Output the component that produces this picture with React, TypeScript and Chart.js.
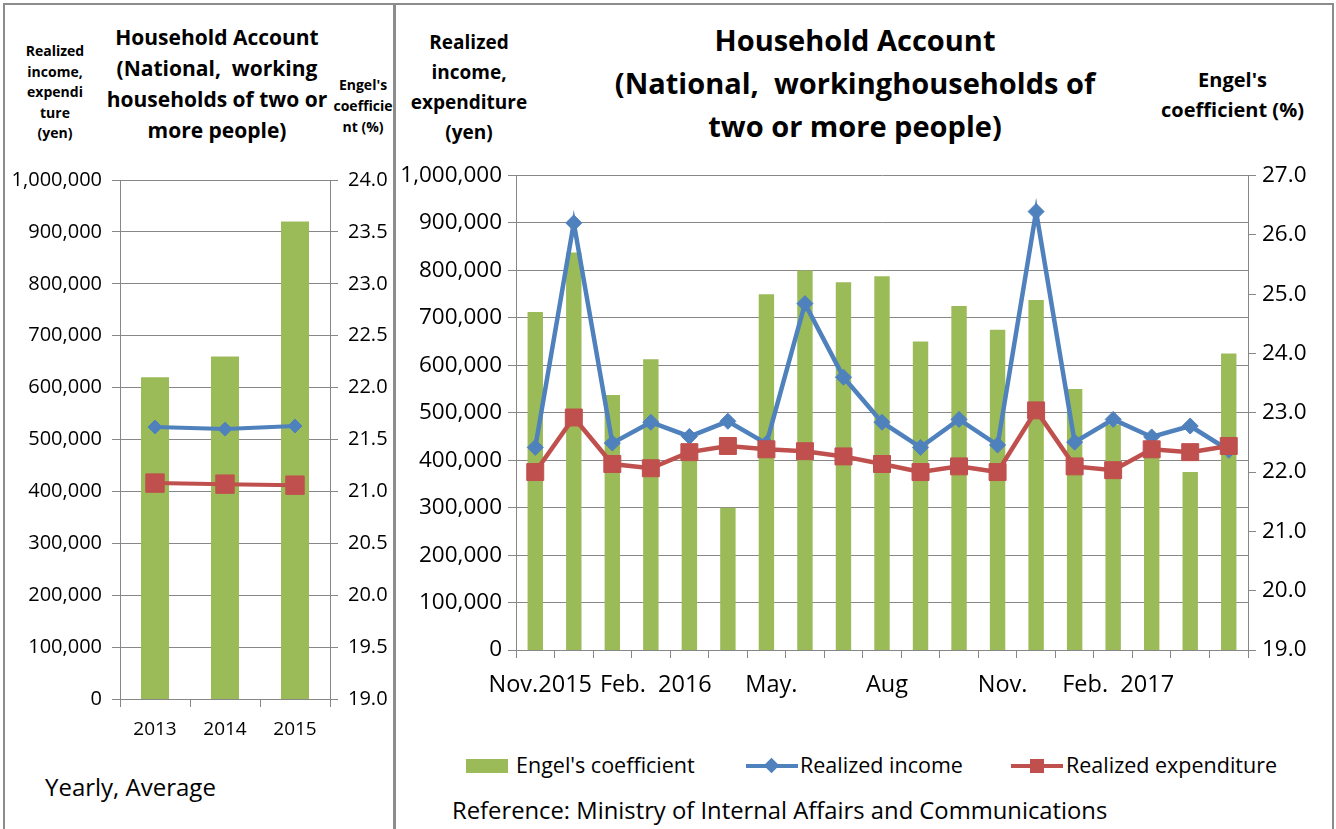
import React, { useEffect, useRef } from "react";
import { Chart, registerables } from "chart.js";

Chart.register(...registerables);

// ---------- Yearly (left) ----------
const yearCategories = ["2013", "2014", "2015"];
const yearEngel = [22.1, 22.3, 23.6];
const yearIncome = [524000, 520000, 526000];
const yearExpenditure = [416000, 414000, 412000];

// ---------- Monthly (right) ----------
const monthCategories = [
  "Nov. 2015", "Dec. 2015", "Jan. 2016", "Feb. 2016", "Mar. 2016", "Apr. 2016",
  "May 2016", "Jun. 2016", "Jul. 2016", "Aug. 2016", "Sep. 2016", "Oct. 2016",
  "Nov. 2016", "Dec. 2016", "Jan. 2017", "Feb. 2017", "Mar. 2017", "Apr. 2017", "May 2017",
];
const monthTickLabels = [
  "Nov.2015", "", "", "Feb.  2016", "", "", "May.", "", "", "Aug", "", "",
  "Nov.", "", "", "Feb.  2017", "", "", "",
];
const monthEngel = [24.7, 25.7, 23.3, 23.9, 22.3, 21.4, 25.0, 25.4, 25.2, 25.3, 24.2, 24.8, 24.4, 24.9, 23.4, 22.8, 22.4, 22.0, 24.0];
const monthIncome = [427000, 900000, 436000, 480000, 450000, 482000, 435000, 730000, 575000, 480000, 427000, 486000, 432000, 924000, 438000, 486000, 449000, 472000, 421000];
const monthExpenditure = [375000, 490000, 392000, 383000, 417000, 430000, 423000, 419000, 408000, 392000, 375000, 387000, 375000, 505000, 387000, 379000, 423000, 417000, 430000];

const GREEN = "#9BBB59";
const BLUE = "#4F81BD";
const RED = "#C0504D";
const GRID = "#878787";
const FONT = "'Open Sans', sans-serif";

type Dims = {
  w: number; h: number; leftW: number; rightW: number; xH: number;
  yFont: number; xFont: number; diamond: number; square: number; lineW: number;
  xPad: number; yPad: number; labelOffset: number;
};

function makeConfig(
  labels: string[], tickLabels: string[], engel: number[], income: number[], expenditure: number[],
  yMin2: number, yMax2: number, step2: number, d: Dims
): any {
  return {
    type: "bar",
    data: {
      labels,
      datasets: [
        {
          type: "line", label: "Realized expenditure", data: expenditure, yAxisID: "y",
          borderColor: RED, backgroundColor: RED, borderWidth: d.lineW,
          pointStyle: "rect", pointRadius: d.square, pointBackgroundColor: RED, pointBorderColor: RED,
          pointBorderWidth: 1, tension: 0, order: 0,
        },
        {
          type: "line", label: "Realized income", data: income, yAxisID: "y",
          borderColor: BLUE, backgroundColor: BLUE, borderWidth: d.lineW,
          pointStyle: "rectRot", pointRadius: d.diamond, pointBackgroundColor: BLUE, pointBorderColor: BLUE,
          pointBorderWidth: 1, tension: 0, order: 1,
        },
        {
          type: "bar", label: "Engel's coefficient", data: engel, yAxisID: "y1",
          backgroundColor: GREEN, borderWidth: 0, barPercentage: 0.4, categoryPercentage: 1, order: 2,
        },
      ],
    },
    options: {
      animation: false,
      responsive: false,
      maintainAspectRatio: false,
      layout: { padding: 0 },
      plugins: { legend: { display: false }, title: { display: false }, tooltip: { enabled: false } },
      scales: {
        x: {
          offset: true,
          grid: { offset: true, drawOnChartArea: false, drawTicks: true, tickLength: 8, color: GRID },
          border: { display: true, color: GRID, width: 1 },
          ticks: {
            autoSkip: false, maxRotation: 0, minRotation: 0, color: "#000", padding: d.xPad,
            labelOffset: d.labelOffset,
            font: { family: FONT, size: d.xFont },
            callback: (_v: any, i: number) => tickLabels[i],
          },
          afterFit: (s: any) => { s.height = d.xH; },
        },
        y: {
          position: "left", min: 0, max: 1000000,
          ticks: {
            stepSize: 100000, color: "#000", padding: d.yPad, font: { family: FONT, size: d.yFont },
            callback: (v: any) => Number(v).toLocaleString("en-US"),
          },
          grid: { color: GRID, lineWidth: 1, tickLength: 8, drawTicks: true },
          border: { display: true, color: GRID, width: 1 },
          afterFit: (s: any) => { s.width = d.leftW; },
        },
        y1: {
          position: "right", min: yMin2, max: yMax2,
          ticks: {
            stepSize: step2, color: "#000", padding: d.yPad, font: { family: FONT, size: d.yFont },
            callback: (v: any) => Number(v).toFixed(1),
          },
          grid: { drawOnChartArea: false, color: GRID, tickLength: 8, drawTicks: true },
          border: { display: true, color: GRID, width: 1 },
          afterFit: (s: any) => { s.width = d.rightW; },
        },
      },
    },
  };
}

function ChartCanvas(props: { left: number; top: number; config: () => any; w: number; h: number }) {
  const ref = useRef<HTMLCanvasElement | null>(null);
  useEffect(() => {
    if (!ref.current) return;
    const chart = new Chart(ref.current, props.config());
    return () => chart.destroy();
  }, []);
  return (
    <canvas
      ref={ref}
      width={props.w}
      height={props.h}
      style={{ position: "absolute", left: props.left, top: props.top, width: props.w, height: props.h }}
    />
  );
}

const abs = (s: React.CSSProperties): React.CSSProperties => ({ position: "absolute", ...s });

export default function App() {
  // chart area top = canvas top + (yFont*1.2/2 + yPad)
  const leftDims: Dims = {
    w: 388, h: 600, leftW: 116, rightW: 62, xH: 59,
    yFont: 20, xFont: 19, diamond: 7, square: 13, lineW: 4, xPad: 11, yPad: 10, labelOffset: 0,
  };
  const rightDims: Dims = {
    w: 936, h: 560, leftW: 119, rightW: 85, xH: 66,
    yFont: 22.5, xFont: 23.5, diamond: 8, square: 12, lineW: 4.5, xPad: 13, yPad: 6, labelOffset: 5,
  };
  const boldText: React.CSSProperties = { fontFamily: FONT, fontWeight: 700, color: "#000", textAlign: "center" };
  const normText: React.CSSProperties = { fontFamily: FONT, fontWeight: 400, color: "#000", whiteSpace: "nowrap" };

  return (
    <div style={{ position: "fixed", left: 0, top: 0, width: 1336, height: 829, background: "#fff", overflow: "hidden" }}>
      {/* borders */}
      <div style={abs({ left: 3, top: 3, width: 1331, height: 2, background: "#8c8c8c" })} />
      <div style={abs({ left: 3, top: 3, width: 2, height: 830, background: "#8c8c8c" })} />
      <div style={abs({ left: 393, top: 3, width: 3, height: 830, background: "#8c8c8c" })} />
      <div style={abs({ left: 1332, top: 3, width: 2, height: 830, background: "#8c8c8c" })} />

      {/* ---------- Left panel ---------- */}
      <div style={abs({ ...boldText, left: 92, top: 22, width: 250, fontSize: 21, lineHeight: "31px", whiteSpace: "nowrap" })}>
        Household Account<br />(National,&nbsp; working<br />households of two or<br />more people)
      </div>
      <div style={abs({ ...boldText, left: 10, top: 41, width: 90, fontSize: 14, lineHeight: "20.5px" })}>
        Realized<br />income,<br />expendi<br />ture<br />(yen)
      </div>
      <div style={abs({ ...boldText, left: 325, top: 74, width: 76, fontSize: 14, lineHeight: "21px" })}>
        Engel's<br />coefficie<br />nt (%)
      </div>
      <ChartCanvas
        left={4} top={158} w={leftDims.w} h={leftDims.h}
        config={() => makeConfig(yearCategories, yearCategories, yearEngel, yearIncome, yearExpenditure, 19, 24, 0.5, leftDims)}
      />
      <div style={abs({ ...normText, left: 45, top: 771, fontSize: 24, lineHeight: "32px" })}>Yearly, Average</div>

      {/* ---------- Right panel ---------- */}
      <div style={abs({ ...boldText, left: 555, top: 18, width: 600, fontSize: 29, lineHeight: "43px", whiteSpace: "nowrap" })}>
        Household Account<br />(National,&nbsp; workinghouseholds of<br />two or more people)
      </div>
      <div style={abs({ ...boldText, left: 396, top: 27, width: 146, fontSize: 19, lineHeight: "30px", whiteSpace: "nowrap" })}>
        Realized<br />income,<br />expenditure<br />(yen)
      </div>
      <div style={abs({ ...boldText, left: 1140, top: 65, width: 185, fontSize: 20, lineHeight: "30px", whiteSpace: "nowrap" })}>
        Engel's<br />coefficient (%)
      </div>
      <ChartCanvas
        left={397} top={156} w={rightDims.w} h={rightDims.h}
        config={() => makeConfig(monthCategories, monthTickLabels, monthEngel, monthIncome, monthExpenditure, 19, 27, 1, rightDims)}
      />

      {/* legend */}
      <div style={abs({ left: 466, top: 759, width: 42, height: 14, background: GREEN })} />
      <div style={abs({ ...normText, left: 516, top: 750, fontSize: 21.5, lineHeight: "30px" })}>Engel's coefficient</div>
      <div style={abs({ left: 746, top: 764, width: 52, height: 4, background: BLUE })} />
      <div style={abs({ left: 766, top: 760, width: 11, height: 11, background: BLUE, transform: "rotate(45deg)" })} />
      <div style={abs({ ...normText, left: 800, top: 750, fontSize: 21.5, lineHeight: "30px" })}>Realized income</div>
      <div style={abs({ left: 1011, top: 764, width: 52, height: 4, background: RED })} />
      <div style={abs({ left: 1030, top: 759, width: 14, height: 14, background: RED })} />
      <div style={abs({ ...normText, left: 1066, top: 750, fontSize: 21.5, lineHeight: "30px" })}>Realized expenditure</div>

      <div style={abs({ ...normText, left: 452, top: 794, fontSize: 23.8, lineHeight: "32px" })}>
        Reference: Ministry of Internal Affairs and Communications
      </div>
    </div>
  );
}
